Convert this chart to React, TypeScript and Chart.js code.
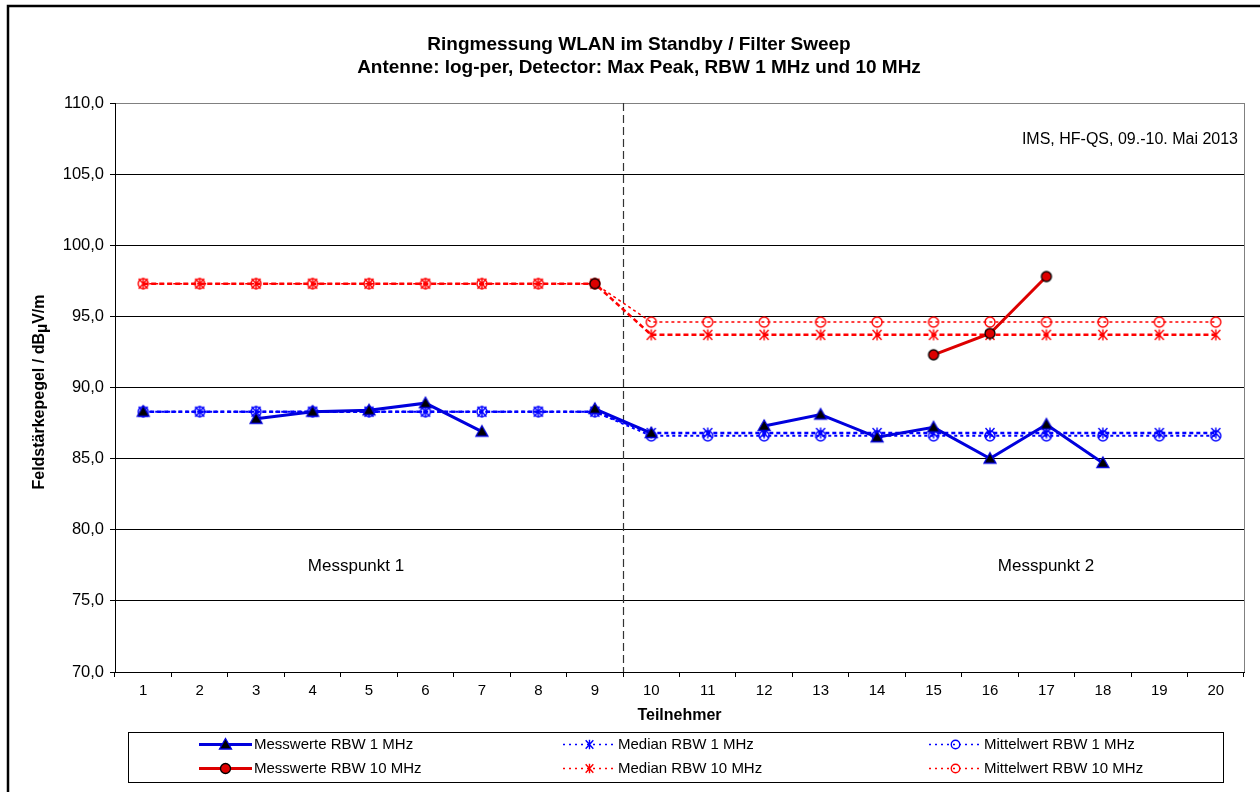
import React, { useEffect, useRef } from 'react';
import { Chart, registerables } from 'chart.js';

Chart.register(...registerables);

// ---------- data ----------
const categories = ['1', '2', '3', '4', '5', '6', '7', '8', '9', '10', '11', '12', '13', '14', '15', '16', '17', '18', '19', '20'];
const messwerte1MHz = [88.3, null, 87.8, 88.3, 88.4, 88.9, 86.9, null, 88.5, 86.8, null, 87.3, 88.1, 86.5, 87.2, 85.0, 87.4, 84.7, null, null];
const messwerte10MHz = [null, null, null, null, null, null, null, null, 97.3, null, null, null, null, null, 92.3, 93.8, 97.8, null, null, null];
const median1MHz = [88.3, 88.3, 88.3, 88.3, 88.3, 88.3, 88.3, 88.3, 88.3, 86.8, 86.8, 86.8, 86.8, 86.8, 86.8, 86.8, 86.8, 86.8, 86.8, 86.8];
const mittel1MHz = [88.3, 88.3, 88.3, 88.3, 88.3, 88.3, 88.3, 88.3, 88.3, 86.6, 86.6, 86.6, 86.6, 86.6, 86.6, 86.6, 86.6, 86.6, 86.6, 86.6];
const median10MHz = [97.3, 97.3, 97.3, 97.3, 97.3, 97.3, 97.3, 97.3, 97.3, 93.7, 93.7, 93.7, 93.7, 93.7, 93.7, 93.7, 93.7, 93.7, 93.7, 93.7];
const mittel10MHz = [97.3, 97.3, 97.3, 97.3, 97.3, 97.3, 97.3, 97.3, 97.3, 94.6, 94.6, 94.6, 94.6, 94.6, 94.6, 94.6, 94.6, 94.6, 94.6, 94.6];
const seriesNames = [
  'Messwerte RBW 1 MHz',
  'Messwerte RBW 10 MHz',
  'Median RBW 1 MHz',
  'Mittelwert RBW 1 MHz',
  'Median RBW 10 MHz',
  'Mittelwert RBW 10 MHz',
];
const yMin = 70;
const yMax = 110;
const yStep = 5;
const titleLines = ['Ringmessung WLAN im Standby / Filter Sweep', 'Antenne: log-per, Detector: Max Peak, RBW 1 MHz und 10 MHz'];
const yAxisTitleParts = ['Feldstärkepegel / dB', 'µ', 'V/m'];
const xAxisTitle = 'Teilnehmer';
const sourceNote = 'IMS, HF-QS, 09.-10. Mai 2013';
const regionLabels = ['Messpunkt 1', 'Messpunkt 2'];

// ---------- styles ----------
const FONT = '"Liberation Sans", Arial, sans-serif';
const BLUE = '#0000FF';
const BLUE_DARK = '#0000DD';
const RED = '#FF0000';
const RED_DARK = '#DD0000';

type MarkerKind = 'triangle' | 'dot' | 'ring' | 'asterisk';

function drawMarker(g: CanvasRenderingContext2D, kind: MarkerKind, x: number, y: number, stroke: string, fill: string, scale = 1) {
  g.save();
  g.setLineDash([]);
  g.lineWidth = 1.3;
  g.strokeStyle = stroke;
  g.fillStyle = fill;
  g.beginPath();
  const k = scale;
  if (kind === 'triangle') {
    g.moveTo(x, y - 6 * k);
    g.lineTo(x + 6 * k, y + 4.5 * k);
    g.lineTo(x - 6 * k, y + 4.5 * k);
    g.closePath();
    g.fill();
    g.stroke();
  } else if (kind === 'dot') {
    g.arc(x, y, 5 * k, 0, Math.PI * 2);
    g.fill();
    g.stroke();
  } else if (kind === 'ring') {
    g.lineWidth = 1.4;
    g.arc(x, y, 5 * k, 0, Math.PI * 2);
    g.stroke();
  } else {
    g.lineWidth = 1.4;
    g.moveTo(x - 4.5 * k, y - 5 * k);
    g.lineTo(x + 4.5 * k, y + 5 * k);
    g.moveTo(x + 4.5 * k, y - 5 * k);
    g.lineTo(x - 4.5 * k, y + 5 * k);
    g.moveTo(x, y - 5.5 * k);
    g.lineTo(x, y + 5.5 * k);
    g.stroke();
  }
  g.restore();
}

function makeMarker(kind: MarkerKind, stroke: string, fill: string): HTMLCanvasElement {
  const c = document.createElement('canvas');
  c.width = 16;
  c.height = 16;
  const g = c.getContext('2d')!;
  drawMarker(g, kind, 8, 8, stroke, fill);
  return c;
}

interface SeriesStyle {
  color: string;
  width: number;
  dash: number[];
  marker: MarkerKind;
  mStroke: string;
  mFill: string;
}

const seriesStyles: SeriesStyle[] = [
  { color: BLUE_DARK, width: 3, dash: [], marker: 'triangle', mStroke: BLUE_DARK, mFill: '#000' },
  { color: RED_DARK, width: 3, dash: [], marker: 'dot', mStroke: '#000', mFill: RED_DARK },
  { color: BLUE, width: 2.5, dash: [4, 3], marker: 'asterisk', mStroke: BLUE, mFill: 'transparent' },
  { color: BLUE, width: 2, dash: [3, 3], marker: 'ring', mStroke: BLUE, mFill: 'transparent' },
  { color: RED, width: 2.5, dash: [5, 3], marker: 'asterisk', mStroke: RED, mFill: 'transparent' },
  { color: RED, width: 1.5, dash: [3, 3], marker: 'ring', mStroke: RED, mFill: 'transparent' },
];

const seriesData = [messwerte1MHz, messwerte10MHz, median1MHz, mittel1MHz, median10MHz, mittel10MHz];

// legend layout: [row, col] per series
const legendSlots = [
  [0, 0],
  [1, 0],
  [0, 1],
  [0, 2],
  [1, 1],
  [1, 2],
];

const decorPlugin = {
  id: 'decor',
  beforeDatasetsDraw(chart: any) {
    const { ctx, chartArea, scales } = chart;
    const xs = scales.x;
    const xDiv = (xs.getPixelForValue(8) + xs.getPixelForValue(9)) / 2;
    ctx.save();
    ctx.strokeStyle = '#808080';
    ctx.lineWidth = 1;
    ctx.beginPath();
    ctx.moveTo(chartArea.right + 0.5, chartArea.top);
    ctx.lineTo(chartArea.right + 0.5, chartArea.bottom);
    ctx.stroke();
    ctx.strokeStyle = '#333';
    ctx.lineWidth = 1.2;
    ctx.setLineDash([8, 4]);
    ctx.beginPath();
    ctx.moveTo(Math.round(xDiv) + 0.5, chartArea.top);
    ctx.lineTo(Math.round(xDiv) + 0.5, chartArea.bottom);
    ctx.stroke();
    ctx.restore();
  },
  afterDraw(chart: any) {
    const { ctx, chartArea, scales } = chart;
    const ys = scales.y;
    ctx.save();
    ctx.strokeStyle = '#000';
    ctx.lineWidth = 2.5;
    ctx.beginPath();
    ctx.moveTo(8, 800);
    ctx.lineTo(8, 6);
    ctx.lineTo(1270, 6);
    ctx.stroke();

    ctx.fillStyle = '#000';
    ctx.textAlign = 'center';
    ctx.textBaseline = 'middle';
    ctx.font = `bold 19px ${FONT}`;
    ctx.fillText(titleLines[0], 639, 45);
    ctx.fillText(titleLines[1], 639, 68);

    ctx.font = `bold 16px ${FONT}`;
    ctx.fillText(xAxisTitle, (chartArea.left + chartArea.right) / 2, 716);
    ctx.save();
    ctx.translate(40, 392);
    ctx.rotate(-Math.PI / 2);
    ctx.textAlign = 'left';
    const w0 = ctx.measureText(yAxisTitleParts[0]).width;
    const w1 = ctx.measureText(yAxisTitleParts[1]).width;
    const w2 = ctx.measureText(yAxisTitleParts[2]).width;
    let tx = -(w0 + w1 + w2) / 2;
    ctx.fillText(yAxisTitleParts[0], tx, 0);
    tx += w0;
    ctx.fillText(yAxisTitleParts[1], tx, 2.5);
    tx += w1;
    ctx.fillText(yAxisTitleParts[2], tx, 0);
    ctx.restore();

    ctx.font = `16px ${FONT}`;
    ctx.textAlign = 'right';
    ctx.fillText(sourceNote, chartArea.right - 6, 140);
    ctx.textAlign = 'center';
    ctx.font = `17px ${FONT}`;
    const yLbl = ys.getPixelForValue(77.45);
    ctx.fillText(regionLabels[0], 356, yLbl);
    ctx.fillText(regionLabels[1], 1046, yLbl);

    const lx = 128, ly = 732, lw = 1095, lh = 50;
    ctx.strokeStyle = '#000';
    ctx.lineWidth = 1;
    ctx.setLineDash([]);
    ctx.strokeRect(lx + 0.5, ly + 0.5, lw, lh);
    const colX = [199, 563, 929];
    const rowY = [744.5, 768.5];
    ctx.font = `15px ${FONT}`;
    ctx.textAlign = 'left';
    ctx.textBaseline = 'middle';
    seriesNames.forEach((name, i) => {
      const st = seriesStyles[i];
      const [r, c] = legendSlots[i];
      const x0 = colX[c];
      const y0 = rowY[r];
      const dotted = st.dash.length > 0;
      ctx.save();
      ctx.strokeStyle = st.color;
      ctx.lineWidth = dotted ? 1.5 : st.width;
      ctx.setLineDash(dotted ? [2, 4] : []);
      ctx.beginPath();
      ctx.moveTo(x0, y0);
      ctx.lineTo(x0 + 53, y0);
      ctx.stroke();
      ctx.restore();
      drawMarker(ctx, st.marker, x0 + 26.5, y0, st.mStroke, dotted ? '#fff' : st.mFill, dotted ? 0.85 : 1);
      ctx.fillStyle = '#000';
      ctx.fillText(name, x0 + 55, y0);
    });
    ctx.restore();
  },
};

export default function App() {
  const ref = useRef<HTMLCanvasElement | null>(null);
  useEffect(() => {
    if (!ref.current) return;
    Chart.defaults.font.family = FONT;
    const datasets = seriesNames.map((name, i) => {
      const st = seriesStyles[i];
      return {
        label: name,
        data: seriesData[i],
        borderColor: st.color,
        backgroundColor: st.color,
        borderWidth: st.width,
        borderDash: st.dash,
        pointStyle: makeMarker(st.marker, st.mStroke, st.mFill),
        pointRadius: 6,
        pointHoverRadius: 6,
        tension: 0,
        spanGaps: false,
        fill: false,
      };
    });
    const chart = new Chart(ref.current, {
      type: 'line',
      data: { labels: categories, datasets },
      options: {
        responsive: false,
        animation: false,
        events: [],
        layout: { padding: { left: 55, top: 103, right: 16, bottom: 90 } },
        plugins: {
          legend: { display: false },
          title: { display: false },
          tooltip: { enabled: false },
        },
        scales: {
          x: {
            type: 'category',
            offset: true,
            grid: { offset: true, drawOnChartArea: false, drawTicks: true, tickLength: 5, color: '#000' },
            border: { color: '#000', width: 1 },
            ticks: { color: '#000', font: { size: 15 }, padding: 5, maxRotation: 0, autoSkip: false },
            afterFit: (s: any) => {
              s.height = 30;
            },
          },
          y: {
            min: yMin,
            max: yMax,
            ticks: {
              stepSize: yStep,
              color: '#000',
              font: { size: 16.5 },
              padding: 6,
              callback: (v: any) => Number(v).toFixed(1).replace('.', ','),
            },
            grid: {
              color: (c: any) => (c.tick && c.tick.value === yMax ? '#808080' : '#000'),
              tickColor: '#000',
              tickLength: 5,
              lineWidth: 1,
            },
            border: { color: '#000', width: 1 },
            afterFit: (s: any) => {
              s.width = 60;
            },
          },
        },
      } as any,
      plugins: [decorPlugin],
    });
    return () => chart.destroy();
  }, []);
  return (
    <div style={{ position: 'absolute', left: 0, top: 0, width: 1260, height: 792, background: '#fff' }}>
      <canvas ref={ref} width={1260} height={792} style={{ display: 'block' }} />
    </div>
  );
}
